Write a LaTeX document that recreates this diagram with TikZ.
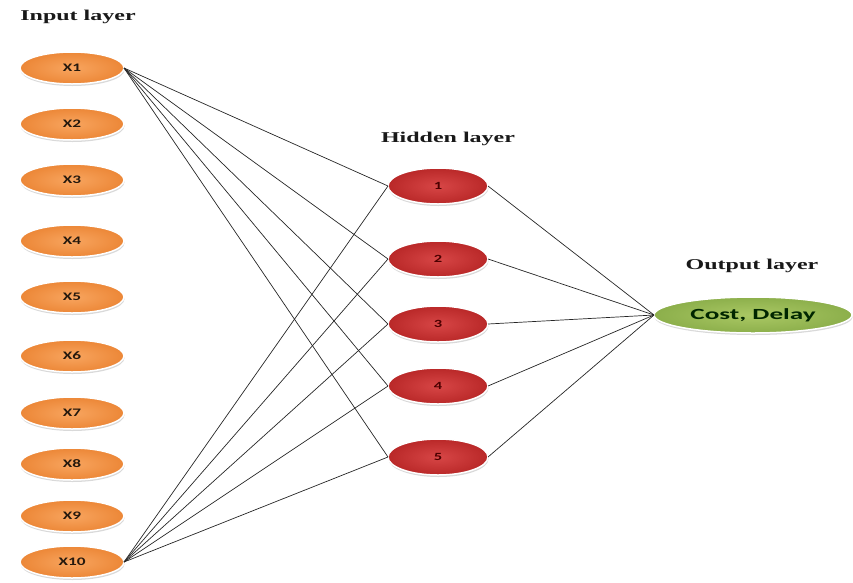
\documentclass[tikz,border=0pt]{standalone}
\usepackage{fontspec}
\setmainfont{Liberation Serif}
\newfontfamily\nodefont{Carlito}
\usetikzlibrary{shapes.geometric,shadows}
\newcommand\stretchx[2]{\scalebox{#1}[1]{#2}}
\definecolor{orin}{RGB}{248,165,95}
\definecolor{orout}{RGB}{236,135,55}
\definecolor{redin}{RGB}{215,70,70}
\definecolor{redout}{RGB}{185,40,40}
\definecolor{grin}{RGB}{170,200,100}
\definecolor{grout}{RGB}{140,175,75}
\begin{document}
\begin{tikzpicture}[x=1pt,y=-1pt,
  neuron/.style={ellipse, inner sep=0pt, outer sep=0pt, draw=white, line width=1.5pt,
    drop shadow={opacity=0.3, shadow xshift=0.5pt, shadow yshift=-2pt}},
  innode/.style={neuron, minimum width=104pt, minimum height=32pt,
    inner color=orin, outer color=orout,
    font=\nodefont\bfseries\fontsize{11.5}{12}\selectfont, text=black!80!brown},
  hidnode/.style={neuron, minimum width=100pt, minimum height=36pt,
    inner color=redin, outer color=redout,
    font=\nodefont\bfseries\fontsize{11}{12}\selectfont, text=black!70!red},
  outnode/.style={neuron, minimum width=198pt, minimum height=36pt,
    inner color=grin, outer color=grout,
    font=\nodefont\bfseries\fontsize{15.5}{17}\selectfont, text=black!85!green},
  link/.style={draw=black!85, line width=0.7pt},
  layerlabel/.style={font=\bfseries\fontsize{15}{17}\selectfont, text=black!90}
]
\useasboundingbox (0,0) rectangle (853,582);

\node[layerlabel] (linput) at (78,17) {\stretchx{1.6}{Input layer}};
\node[layerlabel] (lhidden) at (448,139) {\stretchx{1.6}{Hidden layer}};
\node[layerlabel] (loutput) at (752,266) {\stretchx{1.6}{Output layer}};

\node[innode] (x1) at (72,68) {\stretchx{1.5}{X1}};
\node[innode] (x2) at (72,124) {\stretchx{1.5}{X2}};
\node[innode] (x3) at (72,180) {\stretchx{1.5}{X3}};
\node[innode] (x4) at (72,241) {\stretchx{1.5}{X4}};
\node[innode] (x5) at (72,297) {\stretchx{1.5}{X5}};
\node[innode] (x6) at (72,356) {\stretchx{1.5}{X6}};
\node[innode] (x7) at (72,413) {\stretchx{1.5}{X7}};
\node[innode] (x8) at (72,464) {\stretchx{1.5}{X8}};
\node[innode] (x9) at (72,516) {\stretchx{1.5}{X9}};
\node[innode] (x10) at (72,562) {\stretchx{1.5}{X10}};

\node[hidnode] (h1) at (438,186) {\stretchx{1.5}{1}};
\node[hidnode] (h2) at (438,259) {\stretchx{1.5}{2}};
\node[hidnode] (h3) at (438,324) {\stretchx{1.5}{3}};
\node[hidnode] (h4) at (438,386) {\stretchx{1.5}{4}};
\node[hidnode] (h5) at (438,457) {\stretchx{1.5}{5}};

\node[outnode] (out) at (753,315) {\stretchx{1.75}{Cost, Delay}};

\foreach \h in {h1,h2,h3,h4,h5} {
  \draw[link] (x1.east) -- (\h.west);
  \draw[link] (x10.east) -- (\h.west);
  \draw[link] (\h.east) -- (out.west);
}
\end{tikzpicture}
\end{document}
